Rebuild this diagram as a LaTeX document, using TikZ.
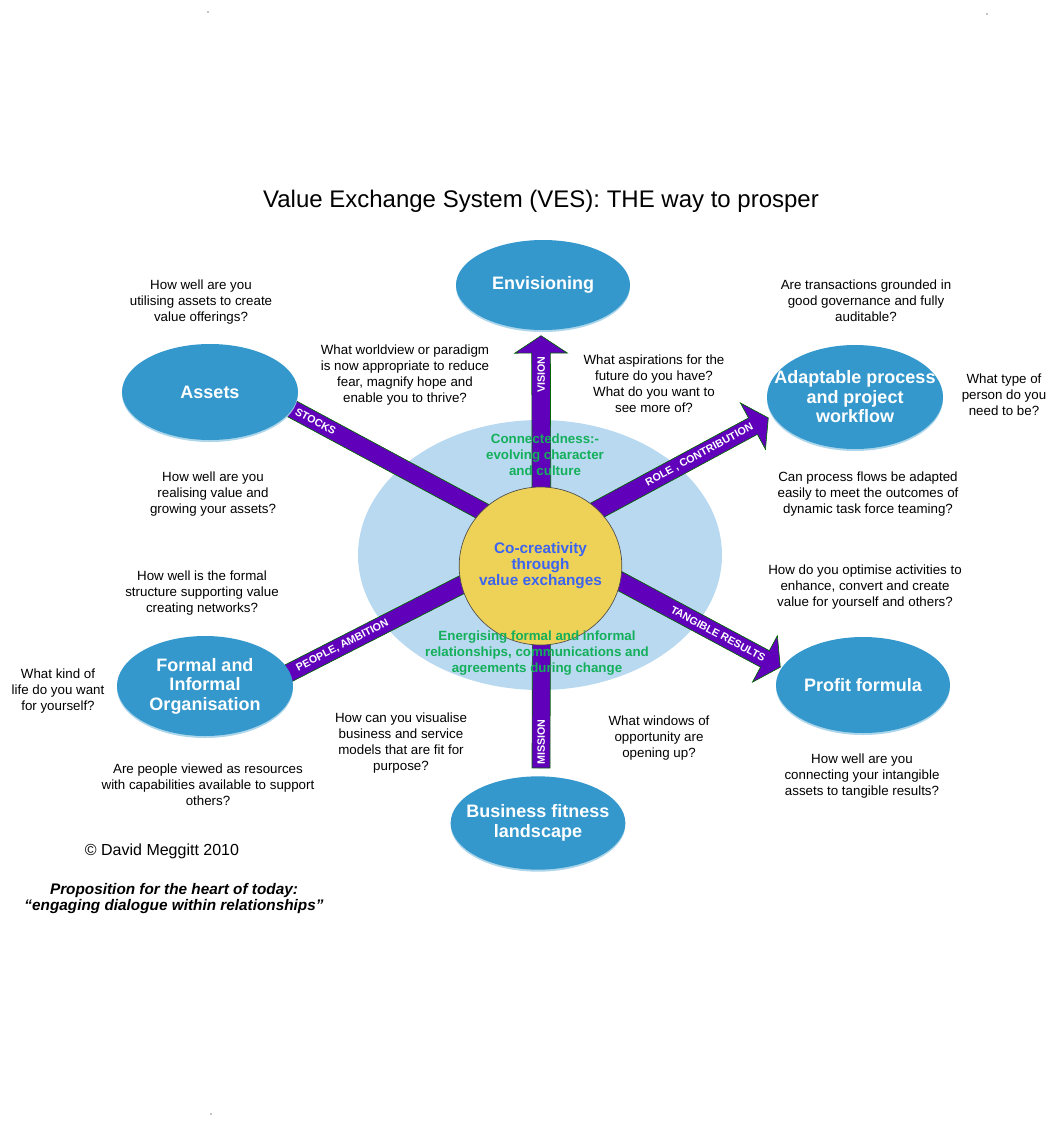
\documentclass[tikz,border=0pt]{standalone}
\usepackage{fontspec}
\setmainfont{Liberation Sans}
\usetikzlibrary{calc,shapes.geometric,shapes.arrows,shadows}

\definecolor{hubblue}{RGB}{52,152,204}
\definecolor{palesky}{RGB}{184,217,240}
\definecolor{coreyellow}{RGB}{238,210,88}
\definecolor{barviolet}{RGB}{96,0,186}
\definecolor{talkgreen}{RGB}{20,175,90}
\definecolor{coreblue}{RGB}{60,100,240}

\pgfdeclarelayer{back}
\pgfdeclarelayer{bars}
\pgfsetlayers{back,bars,main}

\tikzset{
  hub/.style={ellipse, fill=hubblue, inner sep=0pt,
    drop shadow={shadow xshift=0pt, shadow yshift=-1.5pt, fill=hubblue!45, opacity=0.9}},
  hubtext/.style={text=white, align=center, inner sep=0pt,
    font=\fontsize{13.5}{14.6}\selectfont\bfseries},
  ask/.style={align=center, inner sep=0pt, font=\fontsize{10}{12}\selectfont},
  talk/.style={align=center, inner sep=0pt, text=talkgreen, font=\fontsize{10}{12}\selectfont\bfseries},
  barrect/.style={rectangle, draw=black!60!green, line width=0.5pt, fill=barviolet,
    inner sep=0pt, minimum height=13.5pt},
  bararrow/.style={single arrow, draw=black!60!green, line width=0.5pt, fill=barviolet,
    inner sep=0pt, text height=13.5pt, text depth=0pt, minimum width=0pt,
    single arrow head extend=12.75pt, single arrow tip angle=113,
    single arrow head indent=0pt},
  bartext/.style={text=white, inner sep=0pt, font=\fontsize{8}{9}\selectfont\bfseries},
}

\begin{document}
\begin{tikzpicture}[x=0.75pt,y=-0.75pt]
\useasboundingbox (0,0) rectangle (1057,1125);

% title
\node[font=\fontsize{18}{21}\selectfont] (title) at (541,201) {Value Exchange System (VES): THE way to prosper};

% outer hubs
\node[hub, minimum width=130.5pt, minimum height=67.5pt] (envision) at (543,285) {};
\node[hub, minimum width=132pt, minimum height=72pt] (assets) at (210,392) {};
\node[hub, minimum width=132pt, minimum height=78pt] (adapt) at (855,397) {};
\node[hub, minimum width=132pt, minimum height=75pt] (formal) at (205,686) {};
\node[hub, minimum width=130.5pt, minimum height=72pt] (profit) at (863,685) {};
\node[hub, minimum width=131pt, minimum height=70pt] (fitness) at (538,823) {};
\node[hubtext] at (envision) {Envisioning};
\node[hubtext] at (assets) {Assets};
\node[hubtext] at (adapt) {Adaptable process\\and project\\workflow};
\node[hubtext] at (formal) {Formal and\\Informal\\Organisation};
\node[hubtext] at (profit) {Profit formula};
\node[hubtext] at (fitness) {Business fitness\\landscape};

% centre
\node[ellipse, draw=black!70, line width=0.5pt, fill=coreyellow, minimum width=122pt, minimum height=118.5pt,
  inner sep=0pt] (core) at (540.5,566) {};
\node[align=center, inner sep=0pt, text=coreblue, font=\fontsize{11.5}{12}\selectfont\bfseries]
  at (core) {Co-creativity\\through\\value exchanges};
\node[talk] (connect) at (545,455) {Connectedness:-\\evolving character\\and culture};
\node[talk] (energise) at (537,653) {Energising formal and informal\\relationships, communications and\\agreements during change};

% questions
\node[ask] (qutilise) at (201,302) {How well are you\\utilising assets to create\\value offerings?};
\node[ask] (qworld) at (405,375) {What worldview or paradigm\\is now appropriate to reduce\\fear, magnify hope and\\enable you to thrive?};
\node[ask] (qaspire) at (654,384) {What aspirations for the\\future do you have?\\What do you want to\\see more of?};
\node[ask] (qgovern) at (866,301) {Are transactions grounded in\\good governance and fully\\auditable?};
\node[ask] (qperson) at (1004,395) {What type of\\person do you\\need to be?};
\node[ask] (qgrow) at (213,494) {How well are you\\realising value and\\growing your assets?};
\node[ask] (qflow) at (868,494) {Can process flows be adapted\\easily to meet the outcomes of\\dynamic task force teaming?};
\node[ask] (qstruct) at (202,593) {How well is the formal\\structure supporting value\\creating networks?};
\node[ask] (qoptim) at (865,587) {How do you optimise activities to\\enhance, convert and create\\value for yourself and others?};
\node[ask] (qlife) at (58,691) {What kind of\\life do you want\\for yourself?};
\node[ask] (qmodel) at (401,743) {How can you visualise\\business and service\\models that are fit for\\purpose?};
\node[ask] (qwindow) at (659,738) {What windows of\\opportunity are\\opening up?};
\node[ask] (qpeople) at (208,785) {Are people viewed as resources\\with capabilities available to support\\others?};
\node[ask] (qtangible) at (862,776) {How well are you\\connecting your intangible\\assets to tangible results?};

% footer
\node[font=\fontsize{12}{14}\selectfont] (credit) at (162,851) {© David Meggitt 2010};
\node[align=center, font=\fontsize{11.5}{12}\selectfont\bfseries\itshape] (motto) at (174,899)
  {Proposition for the heart of today:\\“engaging dialogue within relationships”};

% stray dots
\fill (208,12) circle (0.5pt);
\fill (987,14) circle (0.5pt);
\fill (211,1114) circle (0.5pt);

% bar ends
\coordinate (visA) at ($(core)+(1,-45)$);
\coordinate (visB) at ($(envision)+(-2,51)$);
\coordinate (misA) at ($(fitness)+(3,-55)$);
\coordinate (misB) at ($(core)+(1,40)$);
\coordinate (stkA) at ($(assets)+(73,12)$);
\coordinate (stkB) at ($(core)+(-40,-45)$);
\coordinate (pplA) at ($(formal)+(80,-11)$);
\coordinate (pplB) at ($(core)+(-50,4)$);
\coordinate (rolA) at ($(core)+(20,-36)$);
\coordinate (rolB) at ($(adapt)+(-87,21)$);
\coordinate (tanA) at ($(core)+(40,-6)$);
\coordinate (tanB) at ($(profit)+(-83,-18)$);

\begin{pgfonlayer}{back}
\node[ellipse, fill=palesky, minimum width=273pt, minimum height=202.5pt] (field) at (540,555) {};
\end{pgfonlayer}

\begin{pgfonlayer}{bars}
% arrows out of the centre
\path let \p1=($(visB)-(visA)$), \n1={atan2(\y1,\x1)}, \n2={veclen(\x1,\y1)} in
  node[bararrow, rotate=\n1, minimum height=\n2, anchor=tail] (vision) at (visA) {};
\path let \p1=($(rolB)-(rolA)$), \n1={atan2(\y1,\x1)}, \n2={veclen(\x1,\y1)} in
  node[bararrow, rotate=\n1, minimum height=\n2, anchor=tail] (role) at (rolA) {};
\path let \p1=($(tanB)-(tanA)$), \n1={atan2(\y1,\x1)}, \n2={veclen(\x1,\y1)} in
  node[bararrow, rotate=\n1, minimum height=\n2, anchor=tail] (tangible) at (tanA) {};
% plain bars
\path let \p1=($(misB)-(misA)$), \n1={atan2(\y1,\x1)}, \n2={veclen(\x1,\y1)} in
  node[barrect, rotate=\n1, minimum width=\n2] (mission) at ($(misA)!0.5!(misB)$) {};
\path let \p1=($(stkB)-(stkA)$), \n1={atan2(\y1,\x1)}, \n2={veclen(\x1,\y1)} in
  node[barrect, rotate=\n1, minimum width=\n2] (stocks) at ($(stkA)!0.5!(stkB)$) {};
\path let \p1=($(pplB)-(pplA)$), \n1={atan2(\y1,\x1)}, \n2={veclen(\x1,\y1)} in
  node[barrect, rotate=\n1, minimum width=\n2] (people) at ($(pplA)!0.5!(pplB)$) {};

% bar labels
\node[bartext, rotate=90] at ($(visA)!0.79!(visB)$) {VISION};
\node[bartext, rotate=90] at ($(misA)!0.16!(misB)$) {MISSION};
\path (stkA) -- (stkB) node[bartext, pos=0.15, sloped] {STOCKS};
\path (pplA) -- (pplB) node[bartext, pos=0.28, sloped] {PEOPLE, AMBITION};
\path (rolA) -- (rolB) node[bartext, pos=0.67, sloped] {ROLE , CONTRIBUTION};
\path (tanA) -- (tanB) node[bartext, pos=0.69, sloped] {TANGIBLE RESULTS};
\end{pgfonlayer}
\end{tikzpicture}
\end{document}
